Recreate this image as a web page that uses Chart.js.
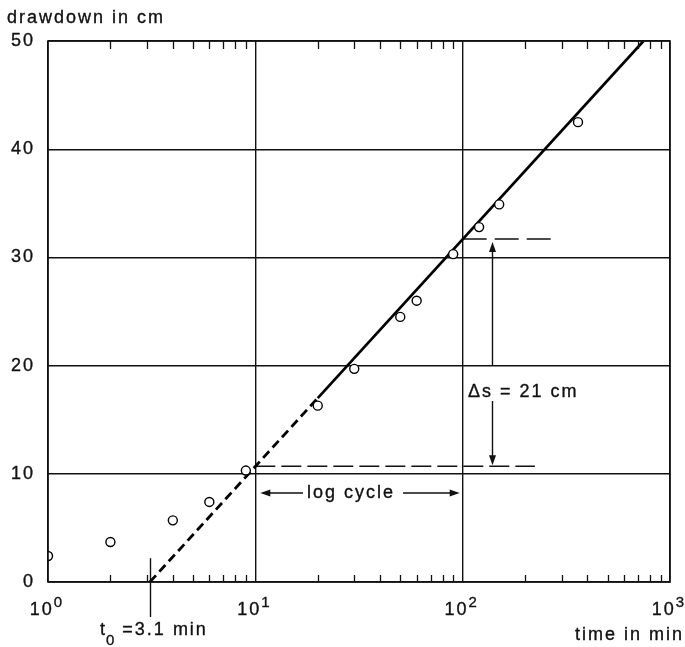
<!DOCTYPE html>
<html>
<head>
<meta charset="utf-8">
<script src="https://cdn.jsdelivr.net/npm/chart.js@4/dist/chart.umd.min.js"></script>
<style>
  body { margin: 0; background: #fff; }
</style>
</head>
<body>
<canvas id="drawdownChart" width="685" height="647"></canvas>
<script>
// pumping test, drawdown vs time (semi-log)
const obsTime = [1, 2, 4, 6, 9, 20, 30, 50, 60, 90, 120, 150, 360];
const obsDrawdown = [2.4, 3.7, 5.7, 7.4, 10.3, 16.3, 19.7, 24.5, 26.0, 30.3, 32.8, 34.9, 42.5];

// straight line s = 21 * log10(t / 3.1), dashed below t = 20
const fitTime = [3.1, 20, 745];
const fitDrawdown = [0, 17.0, 50];

const t0 = 3.1;
const deltaS = 21;
const cycleTime = [10, 100];
const cycleDrawdown = [10.7, 31.7];
const cycleLineEnd = [223, 276];
const arrowTime = 139;

const xDecades = [1, 10, 100, 1000];
const yTicks = [0, 10, 20, 30, 40, 50];

const FONT = '"Liberation Sans", Arial, Helvetica, sans-serif';
const INK = '#111';
const TEXT_STROKE = 0.35;

function pts(xs, ys) {
  return xs.map((x, i) => ({ x: x, y: ys[i] }));
}

// fill + thin stroke, gives the slightly heavier print look
function text(ctx, s, x, y) {
  ctx.fillText(s, x, y);
  ctx.strokeText(s, x, y);
}

function arrowHead(ctx, x, y, dx, dy) {
  // filled triangle pointing in (dx, dy)
  const len = 10, half = 3.5;
  const px = -dy, py = dx;
  ctx.beginPath();
  ctx.moveTo(x, y);
  ctx.lineTo(x - dx * len + px * half, y - dy * len + py * half);
  ctx.lineTo(x - dx * len - px * half, y - dy * len - py * half);
  ctx.closePath();
  ctx.fill();
}

const decor = {
  id: 'decor',
  beforeDraw(chart) {
    chart.ctx.letterSpacing = '2px';
  },
  afterDraw(chart) {
    const ctx = chart.ctx;
    const a = chart.chartArea;
    const xs = chart.scales.x, ys = chart.scales.y;
    ctx.save();
    ctx.letterSpacing = '2px';
    ctx.strokeStyle = INK;
    ctx.fillStyle = INK;

    // frame
    ctx.lineWidth = 1.6;
    ctx.strokeRect(a.left, a.top, a.right - a.left, a.bottom - a.top);

    // minor log ticks, inside, top and bottom
    ctx.lineWidth = 1.3;
    ctx.beginPath();
    xs.ticks.forEach(t => {
      if (xDecades.includes(t.value)) return;
      const x = Math.round(xs.getPixelForValue(t.value)) + 0.5;
      ctx.moveTo(x, a.bottom); ctx.lineTo(x, a.bottom - 7);
      ctx.moveTo(x, a.top); ctx.lineTo(x, a.top + 8);
    });
    ctx.stroke();

    ctx.lineWidth = TEXT_STROKE;
    ctx.lineJoin = 'round';

    // decade labels with superscript exponents
    ctx.textBaseline = 'alphabetic';
    ctx.textAlign = 'left';
    xDecades.forEach((d, i) => {
      const x = xs.getPixelForValue(d);
      ctx.font = '18px ' + FONT;
      const wBase = ctx.measureText('10').width;
      ctx.font = '15px ' + FONT;
      const wExp = ctx.measureText(String(i)).width;
      const left = x - (wBase + wExp) / 2 - 1;
      ctx.font = '18px ' + FONT;
      text(ctx, '10', left, a.bottom + 33);
      ctx.font = '15px ' + FONT;
      text(ctx, String(i), left + wBase, a.bottom + 25);
    });

    // axis titles
    ctx.font = '18px ' + FONT;
    text(ctx, 'drawdown in cm', 7, 23);
    ctx.textAlign = 'right';
    text(ctx, 'time in min', 684, 640);
    ctx.textAlign = 'left';

    // t0 marker
    const xt0 = Math.round(xs.getPixelForValue(t0)) + 0.5;
    ctx.lineWidth = 1.4;
    ctx.beginPath();
    ctx.moveTo(xt0, ys.getPixelForValue(2.2));
    ctx.lineTo(xt0, a.bottom + 35);
    ctx.stroke();
    ctx.lineWidth = TEXT_STROKE;
    ctx.font = '18px ' + FONT;
    text(ctx, 't', 100, 635);
    let w = ctx.measureText('t').width;
    ctx.font = '15px ' + FONT;
    text(ctx, '0', 100 + w - 1, 645);
    w += ctx.measureText('0').width;
    ctx.font = '18px ' + FONT;
    text(ctx, ' =' + t0 + ' min', 100 + w - 2, 635);

    // delta s arrow
    const xa = Math.round(xs.getPixelForValue(arrowTime)) + 0.5;
    const yTop = ys.getPixelForValue(cycleDrawdown[1]) + 3;
    const yBot = ys.getPixelForValue(cycleDrawdown[0]) - 1;
    ctx.lineWidth = 1.4;
    ctx.beginPath();
    ctx.moveTo(xa, yTop + 6); ctx.lineTo(xa, 366);
    ctx.moveTo(xa, 401); ctx.lineTo(xa, yBot - 6);
    ctx.stroke();
    arrowHead(ctx, xa, yTop, 0, -1);
    arrowHead(ctx, xa, yBot, 0, 1);
    ctx.lineWidth = TEXT_STROKE;
    ctx.font = '18px ' + FONT;
    text(ctx, '\u0394s = ' + deltaS + ' cm', 468, 397);

    // log cycle span
    const xl = xs.getPixelForValue(cycleTime[0]) + 5;
    const xr = xs.getPixelForValue(cycleTime[1]) - 3;
    const yc = 493;
    const label = 'log cycle';
    const tw = ctx.measureText(label).width;
    const tx = 307;
    text(ctx, label, tx, 498);
    ctx.lineWidth = 1.4;
    ctx.beginPath();
    ctx.moveTo(xl + 6, yc); ctx.lineTo(tx - 4, yc);
    ctx.moveTo(tx + tw + 8, yc); ctx.lineTo(xr - 6, yc);
    ctx.stroke();
    arrowHead(ctx, xl, yc, -1, 0);
    arrowHead(ctx, xr, yc, 1, 0);

    ctx.restore();
  }
};

new Chart(document.getElementById('drawdownChart'), {
  type: 'scatter',
  data: {
    datasets: [
      {
        data: pts(obsTime, obsDrawdown),
        pointRadius: 4.5,
        pointBackgroundColor: '#fff',
        pointBorderColor: '#000',
        pointBorderWidth: 1.4,
        showLine: false
      },
      {
        data: pts(fitTime.slice(0, 2), fitDrawdown.slice(0, 2)),
        showLine: true,
        borderColor: '#000',
        borderWidth: 2.8,
        borderDash: [9, 5],
        pointRadius: 0
      },
      {
        data: pts(fitTime.slice(1), fitDrawdown.slice(1)),
        showLine: true,
        borderColor: '#000',
        borderWidth: 2.7,
        pointRadius: 0
      },
      {
        data: pts([cycleTime[0], cycleLineEnd[0]], [cycleDrawdown[0], cycleDrawdown[0]]),
        showLine: true,
        borderColor: '#111',
        borderWidth: 1.5,
        borderDash: [20, 6],
        pointRadius: 0
      },
      {
        data: pts([cycleTime[1], cycleLineEnd[1]], [cycleDrawdown[1], cycleDrawdown[1]]),
        showLine: true,
        borderColor: '#111',
        borderWidth: 1.5,
        borderDash: [24, 8],
        pointRadius: 0
      }
    ]
  },
  options: {
    responsive: false,
    animation: false,
    devicePixelRatio: 1,
    layout: { padding: { top: 41, right: 15, left: 0, bottom: 0 } },
    plugins: { legend: { display: false }, tooltip: { enabled: false } },
    scales: {
      x: {
        type: 'logarithmic',
        min: 1,
        max: 1000,
        afterBuildTicks(scale) {
          const ticks = [];
          xDecades.slice(0, -1).forEach(d => {
            for (let k = 1; k < 10; k++) ticks.push({ value: d * k });
          });
          ticks.push({ value: 1000 });
          scale.ticks = ticks;
        },
        afterFit(scale) { scale.height = 65; },
        ticks: { display: false },
        border: { display: false },
        grid: {
          drawTicks: false,
          lineWidth: 1.4,
          color: c => xDecades.includes(c.tick && c.tick.value) ? '#111' : 'rgba(0,0,0,0)'
        }
      },
      y: {
        min: 0,
        max: 50,
        afterBuildTicks(scale) { scale.ticks = yTicks.map(v => ({ value: v })); },
        afterFit(scale) { scale.width = 48; },
        ticks: {
          padding: 13,
          color: INK,
          textStrokeColor: INK,
          textStrokeWidth: TEXT_STROKE,
          font: { family: FONT, size: 18 }
        },
        border: { display: false },
        grid: { drawTicks: false, lineWidth: 1.4, color: '#111' }
      }
    }
  },
  plugins: [decor]
});
</script>
</body>
</html>
